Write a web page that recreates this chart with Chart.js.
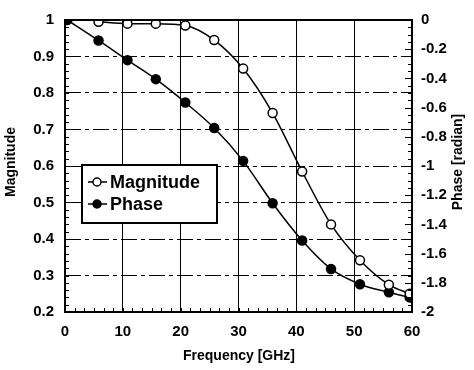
<!DOCTYPE html>
<html>
<head>
<meta charset="utf-8">
<script src="https://cdn.jsdelivr.net/npm/chart.js@4.4.0/dist/chart.umd.min.js"></script>
<style>
    html, body { margin: 0; padding: 0; background: #fff; }
    #wrap { width: 474px; height: 370px; }
</style>
</head>
<body>
<div id="wrap"><canvas id="chart"></canvas></div>
<script>
// meetpunten: amplitude en fase tegen frequentie
const magFreq = [5.8, 10.8, 15.7, 20.8, 25.8, 30.8, 35.9, 41, 46, 51, 56, 59.6];
const magnitude = [0.995, 0.99, 0.99, 0.985, 0.945, 0.867, 0.745, 0.585, 0.44, 0.342, 0.275, 0.25];
const phaseFreq = [0.4, 5.8, 10.8, 15.7, 20.8, 25.8, 30.8, 35.9, 41, 46, 51, 56, 59.6];
const phase = [0, -0.14, -0.275, -0.405, -0.565, -0.74, -0.965, -1.255, -1.51, -1.705, -1.81, -1.865, -1.9];

const freqTicks = [0, 10, 20, 30, 40, 50, 60];
const magTicks = [0.2, 0.3, 0.4, 0.5, 0.6, 0.7, 0.8, 0.9, 1];
const phaseTicks = [-2, -1.8, -1.6, -1.4, -1.2, -1, -0.8, -0.6, -0.4, -0.2, 0];

const tickFont = { family: 'Liberation Sans', size: 15, weight: 'bold' };

function toPoints(xs, ys) {
    const points = [];
    for (let i = 0; i < xs.length; i++) {
        points.push({ x: xs[i], y: ys[i] });
    }
    return points;
}

// 1 i.p.v. 1.0, -2 i.p.v. -2.0
function shortLabel(value) {
    return String(Number(value.toFixed(2)));
}

// kleine streepjes naar binnen + kader om het plotgebied
const frameAndTicks = {
    id: 'frameAndTicks',
    afterDatasetsDraw(chart) {
        const ctx = chart.ctx;
        const a = chart.chartArea;
        const x = chart.scales.x;
        const yl = chart.scales.y;
        const yr = chart.scales.y2;
        ctx.save();
        ctx.strokeStyle = '#000';
        ctx.lineWidth = 1;
        ctx.beginPath();
        for (let v = 0; v <= 60.001; v += 10 / 6) {
            const px = Math.round(x.getPixelForValue(v)) + 0.5;
            ctx.moveTo(px, a.bottom);
            ctx.lineTo(px, a.bottom - 4);
        }
        for (let v = 0.2; v <= 1.0001; v += 0.02) {
            const py = Math.round(yl.getPixelForValue(v)) + 0.5;
            ctx.moveTo(a.left, py);
            ctx.lineTo(a.left + 4, py);
        }
        for (let v = -2; v <= 0.0001; v += 0.05) {
            const py = Math.round(yr.getPixelForValue(v)) + 0.5;
            ctx.moveTo(a.right, py);
            ctx.lineTo(a.right - 4, py);
        }
        for (let i = 0; i < phaseTicks.length; i++) {
            const py = Math.round(yr.getPixelForValue(phaseTicks[i])) + 0.5;
            ctx.moveTo(a.right, py);
            ctx.lineTo(a.right - 7, py);
        }
        ctx.stroke();
        ctx.lineWidth = 2;
        ctx.strokeRect(a.left, a.top, a.right - a.left, a.bottom - a.top);
        ctx.restore();
    }
};

// legenda in het plotgebied en de astitels
const legendAndTitles = {
    id: 'legendAndTitles',
    afterDraw(chart) {
        const ctx = chart.ctx;
        ctx.save();
        ctx.fillStyle = '#fff';
        ctx.fillRect(82, 165, 135, 58);
        ctx.strokeStyle = '#000';
        ctx.lineWidth = 2;
        ctx.strokeRect(82, 165, 135, 58);

        const rows = [182, 204];
        chart.data.datasets.forEach(function (ds, i) {
            const y = rows[i];
            ctx.lineWidth = 1.5;
            ctx.strokeStyle = '#000';
            ctx.beginPath();
            ctx.moveTo(88, y);
            ctx.lineTo(107, y);
            ctx.stroke();
            ctx.beginPath();
            ctx.arc(97, y, 4, 0, Math.PI * 2);
            ctx.fillStyle = ds.pointBackgroundColor;
            ctx.fill();
            ctx.stroke();
            ctx.fillStyle = '#000';
            ctx.font = 'bold 18px "Liberation Sans"';
            ctx.textBaseline = 'middle';
            ctx.textAlign = 'left';
            ctx.fillText(ds.label, 110, y + 1);
        });

        ctx.fillStyle = '#000';
        ctx.font = 'bold 14px "Liberation Sans"';
        ctx.textAlign = 'center';
        ctx.textBaseline = 'middle';
        ctx.fillText('Frequency [GHz]', 239, 356);

        ctx.save();
        ctx.translate(11, 162);
        ctx.rotate(-Math.PI / 2);
        ctx.fillText('Magnitude', 0, 0);
        ctx.restore();

        ctx.save();
        ctx.translate(458, 162);
        ctx.rotate(-Math.PI / 2);
        ctx.fillText('Phase [radian]', 0, 0);
        ctx.restore();
        ctx.restore();
    }
};

chart = new Chart(document.getElementById('chart'), {
    type: 'line',
    data: {
        datasets: [{
            label: 'Magnitude',
            data: toPoints(magFreq, magnitude),
            yAxisID: 'y',
            borderColor: '#000',
            borderWidth: 1.5,
            pointRadius: 4.5,
            pointBackgroundColor: '#fff',
            pointBorderColor: '#000',
            pointBorderWidth: 1.5,
            cubicInterpolationMode: 'monotone'
        }, {
            label: 'Phase',
            data: toPoints(phaseFreq, phase),
            yAxisID: 'y2',
            borderColor: '#000',
            borderWidth: 1.5,
            pointRadius: 4.5,
            pointBackgroundColor: '#000',
            pointBorderColor: '#000',
            pointBorderWidth: 1.5,
            cubicInterpolationMode: 'monotone'
        }]
    },
    options: {
        responsive: true,
        maintainAspectRatio: false,
        animation: false,
        layout: { padding: { top: 12, left: 0, right: 0, bottom: 0 } },
        plugins: {
            legend: { display: false },
            tooltip: { enabled: false }
        },
        scales: {
            x: {
                type: 'linear',
                min: 0,
                max: 60,
                afterFit: function (scale) { scale.height = 58; },
                afterBuildTicks: function (scale) {
                    scale.ticks = freqTicks.map(v => ({ value: v }));
                },
                ticks: { color: '#000', font: tickFont, padding: 11, maxRotation: 0, callback: shortLabel },
                grid: { color: '#000', lineWidth: 1, drawTicks: false },
                border: { display: false }
            },
            y: {
                type: 'linear',
                position: 'left',
                min: 0.2,
                max: 1,
                afterFit: function (scale) { scale.width = 65; },
                afterBuildTicks: function (scale) {
                    scale.ticks = magTicks.map(v => ({ value: v }));
                },
                ticks: { color: '#000', font: tickFont, padding: 11, callback: shortLabel },
                grid: { color: '#000', lineWidth: 1, drawTicks: false },
                border: { display: false, dash: [16, 4, 4, 4] }
            },
            y2: {
                type: 'linear',
                position: 'right',
                min: -2,
                max: 0,
                afterFit: function (scale) { scale.width = 62; },
                afterBuildTicks: function (scale) {
                    scale.ticks = phaseTicks.map(v => ({ value: v }));
                },
                ticks: { color: '#000', font: tickFont, padding: 9, callback: shortLabel },
                grid: { display: false, drawTicks: false },
                border: { display: false }
            }
        }
    },
    plugins: [frameAndTicks, legendAndTitles]
});
</script>
</body>
</html>
